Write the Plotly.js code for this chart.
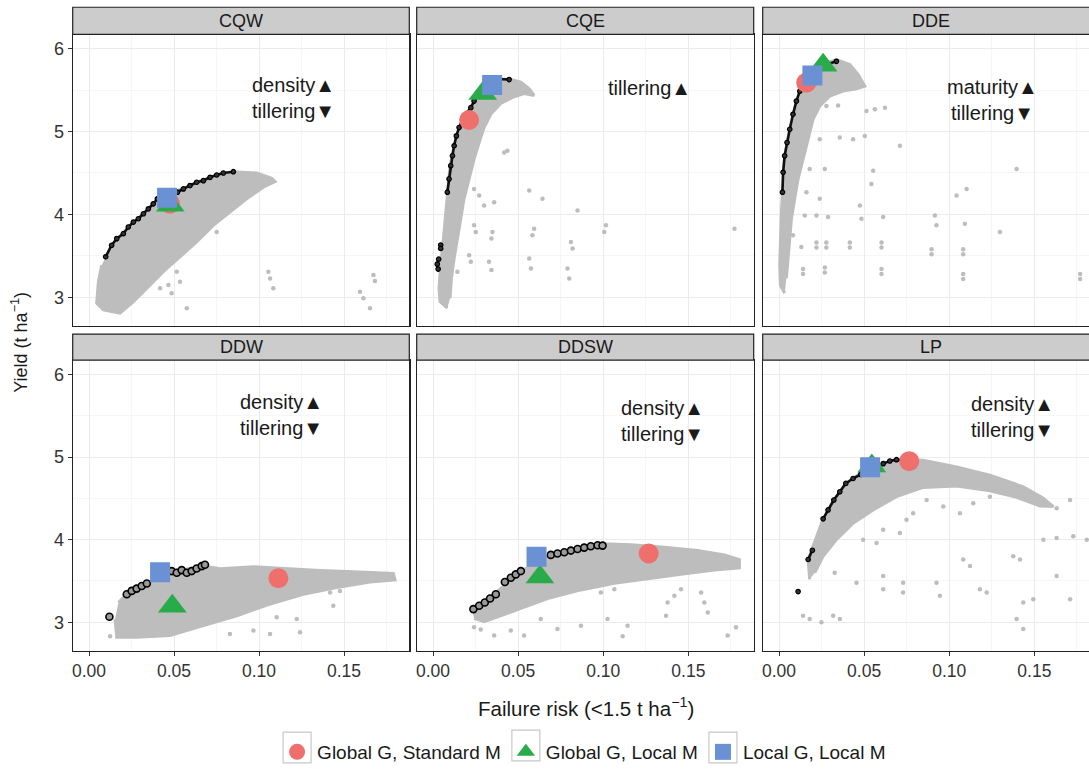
<!DOCTYPE html>
<html><head><meta charset="utf-8">
<script src="https://cdn.plot.ly/plotly-3.0.1.min.js"></script>
<style>html,body{margin:0;padding:0;overflow:hidden;background:#fff}#chart{width:1100px;height:771px}</style>
</head><body><div id="chart"></div>
<script>
// ---------- DATA ----------
const panelNames = ['CQW','CQE','DDE','DDW','DDSW','LP'];
const seriesNames = ['Global G, Standard M','Global G, Local M','Local G, Local M'];

// optimum points per panel (CQW, CQE, DDE, DDW, DDSW, LP)
const globalStdX = [0.0476,0.0212,0.0160,0.1114,0.1267,0.0765];
const globalStdY = [4.13,5.14,5.59,3.533,3.833,4.95];
const globalLocX = [0.0478,0.0292,0.0259,0.0490,0.0628,0.0545];
const globalLocY = [4.11,5.46,5.80,3.195,3.548,4.89];
const localX = [0.0459,0.0347,0.0196,0.0418,0.0608,0.0535];
const localY = [4.20,5.562,5.676,3.605,3.792,4.877];

// panel notes
const noteText = ['density▲<br>tillering▼','tillering▲','maturity▲<br>tillering▼','density▲<br>tillering▼','density▲<br>tillering▼','density▲<br>tillering▼'];

// dense simulation clouds (outline of the grey point mass)
const cqwCloudX = [0.0094,0.0133,0.0202,0.0290,0.0378,0.0476,0.0594,0.0712,0.0849,0.0986,0.1075,0.1094,0.1025,0.0927,0.0829,0.0731,0.0633,0.0535,0.0437,0.0339,0.0261,0.0182,0.0084,0.0045,0.0055,0.0075];
const cqwCloudY = [3.468,3.628,3.768,3.948,4.128,4.248,4.348,4.448,4.516,4.50,4.436,4.396,4.328,4.188,4.028,3.868,3.668,3.488,3.308,3.108,2.948,2.808,2.848,2.928,3.188,3.388];
const cqeCloudX = [0.0084,0.0041,0.0035,0.0045,0.0061,0.0075,0.0084,0.0100,0.0124,0.0153,0.0222,0.0300,0.0359,0.0457,0.0516,0.0565,0.0594,0.0535,0.0476,0.0398,0.0339,0.0300,0.0271,0.0241,0.0212,0.0182,0.0163,0.0143,0.0124,0.0108,0.0100];
const cqeCloudY = [2.868,2.948,3.108,3.388,3.708,4.028,4.268,4.588,4.828,5.048,5.288,5.568,5.636,5.628,5.596,5.516,5.436,5.46,5.42,5.34,5.208,5.048,4.868,4.668,4.428,4.188,3.948,3.708,3.468,3.228,2.988];
const ddeCloudX = [0.0033,0.0008,0.0004,0.0008,0.0014,0.0020,0.0033,0.0063,0.0102,0.0141,0.0220,0.0278,0.0337,0.0416,0.0465,0.0504,0.0455,0.0376,0.0298,0.0239,0.0200,0.0171,0.0141,0.0112,0.0092,0.0073,0.0063,0.0053,0.0043];
const ddeCloudY = [3.048,3.148,3.388,3.708,4.028,4.268,4.708,5.028,5.368,5.568,5.728,5.828,5.868,5.808,5.688,5.548,5.516,5.488,5.428,5.308,5.148,4.908,4.668,4.428,4.188,3.948,3.708,3.468,3.228];
const ddwCloudX = [0.0173,0.0222,0.0310,0.0476,0.0673,0.0771,0.0967,0.1163,0.1359,0.1555,0.1790,0.1800,0.1653,0.1457,0.1261,0.1065,0.0869,0.0673,0.0476,0.0280,0.0163,0.0153];
const ddwCloudY = [3.24,3.34,3.44,3.608,3.68,3.648,3.672,3.648,3.628,3.612,3.592,3.512,3.488,3.42,3.34,3.22,3.08,2.96,2.84,2.82,2.82,3.04];
const ddswCloudX = [0.0231,0.0369,0.0535,0.0712,0.0996,0.1163,0.1359,0.1555,0.1712,0.1800,0.1800,0.1653,0.1457,0.1261,0.1065,0.0869,0.0673,0.0516,0.0398,0.0300,0.0241];
const ddswCloudY = [3.14,3.36,3.64,3.84,3.952,3.94,3.908,3.868,3.816,3.76,3.66,3.632,3.58,3.528,3.472,3.392,3.288,3.168,3.08,3.008,3.048];
const lpCloudX = [0.0180,0.0171,0.0259,0.0322,0.0392,0.0475,0.0612,0.0729,0.0847,0.1043,0.1239,0.1435,0.1553,0.1612,0.1533,0.1396,0.1239,0.1043,0.0847,0.0690,0.0553,0.0435,0.0337,0.0259,0.0210];
const lpCloudY = [3.52,3.76,4.252,4.48,4.68,4.80,4.92,4.968,4.96,4.88,4.78,4.64,4.50,4.40,4.408,4.512,4.592,4.648,4.632,4.52,4.36,4.20,4.00,3.80,3.60];

// Pareto fronts (black)
const cqwFrontX = [0.0098,0.0133,0.0163,0.0202,0.0231,0.0261,0.0290,0.0320,0.0349,0.0378,0.0402,0.0520,0.0555,0.0594,0.0633,0.0673,0.0712,0.0751,0.0790,0.0849];
const cqwFrontY = [3.488,3.628,3.708,3.768,3.848,3.908,3.948,4.008,4.068,4.128,4.188,4.268,4.308,4.348,4.388,4.408,4.448,4.476,4.500,4.516];
const cqeFrontX = [0.0045,0.0045,null,0.0033,0.0025,0.0030,null,0.0084,0.0094,0.0104,0.0114,0.0124,0.0137,0.0153,0.0182,0.0222,0.0241,0.0271,0.0300,0.0359,0.0447];
const cqeFrontY = [3.63,3.59,null,3.46,3.40,3.34,null,4.268,4.428,4.588,4.708,4.828,4.948,5.048,5.188,5.288,5.368,5.468,5.568,5.636,5.628];
const ddeFrontX = [0.0020,0.0024,0.0033,0.0047,0.0063,0.0082,0.0102,0.0122,0.0160,0.0220,0.0278,0.0337];
const ddeFrontY = [4.268,4.508,4.708,4.868,5.028,5.208,5.368,5.488,5.62,5.74,5.808,5.848];
const ddwFrontX = [0.0120,0.0222,0.0251,0.0280,0.0310,0.0340,0.0486,0.0516,0.0545,0.0575,0.0604,0.0633,0.0663,0.0682];
const ddwFrontY = [3.068,3.34,3.38,3.408,3.44,3.47,3.62,3.60,3.632,3.60,3.62,3.652,3.68,3.696];
const ddswFrontX = [0.0237,0.0271,0.0304,0.0335,0.0369,0.0422,0.0457,0.0486,0.0516,0.0692,0.0731,0.0771,0.0810,0.0849,0.0888,0.0927,0.0967,0.0996];
const ddswFrontY = [3.16,3.20,3.24,3.288,3.34,3.488,3.54,3.58,3.62,3.816,3.832,3.848,3.868,3.888,3.904,3.92,3.932,3.928];
const lpFrontX = [0.0112,null,0.0171,0.0196,null,0.0259,0.0288,0.0322,0.0357,0.0392,0.0435,0.0480,null,0.0612,0.0651,0.0690,0.0729];
const lpFrontY = [3.372,null,3.76,3.872,null,4.252,4.36,4.48,4.58,4.68,4.74,4.79,null,4.92,4.952,4.968,4.96];

// scattered simulation points outside the dense clouds
const cqwSparseX = [0.0516,0.0535,0.0575,0.0467,0.0486,0.1055,0.1065,0.1084,0.1594,0.1614,0.1653,0.1673,0.1682,0.0692,0.0751,0.0418];
const cqwSparseY = [3.308,3.188,2.868,3.148,3.048,3.308,3.228,3.108,3.068,2.988,2.868,3.268,3.196,3.828,3.788,3.108];
const cqeSparseX = [0.0418,0.0437,0.0241,0.0271,0.0359,0.0300,0.0565,0.0643,0.0849,0.1016,0.1006,0.0594,0.0584,0.0810,0.0820,0.0349,0.0343,0.0241,0.0251,0.0133,0.0212,0.0222,0.0329,0.0343,0.0565,0.0575,0.0790,0.0800,0.1771,0.0143,0.0124];
const cqeSparseY = [4.748,4.768,4.308,4.228,4.148,4.108,4.288,4.188,4.048,3.868,3.788,3.828,3.748,3.668,3.588,3.788,3.708,3.868,3.788,3.748,3.508,3.428,3.428,3.328,3.468,3.348,3.348,3.228,3.828,3.308,3.568];
const ddeSparseX = [0.0278,0.0347,0.0514,0.0563,0.0622,0.0239,0.0357,0.0435,0.0504,0.0710,0.0180,0.0269,0.0553,0.1396,0.0543,0.1043,0.1102,0.0161,0.0239,0.0151,0.0220,0.0288,0.0475,0.0484,0.0612,0.0916,0.0925,0.1092,0.1298,0.0082,0.0131,0.0220,0.0220,0.0278,0.0278,0.0416,0.0416,0.0602,0.0602,0.0896,0.0896,0.1082,0.1082,0.0141,0.0141,0.0269,0.0269,0.0602,0.0602,0.1082,0.1082,0.1769,0.1769];
const ddeSparseY = [5.308,5.316,5.248,5.268,5.288,4.908,4.928,4.908,4.948,4.828,4.548,4.548,4.528,4.548,4.368,4.228,4.308,4.268,4.188,3.988,3.988,3.968,4.108,3.948,3.968,3.988,3.868,3.888,3.788,3.748,3.608,3.66,3.60,3.66,3.60,3.66,3.60,3.66,3.60,3.58,3.52,3.58,3.52,3.34,3.28,3.36,3.30,3.34,3.28,3.28,3.22,3.28,3.22];
const ddwSparseX = [0.0124,0.0202,0.1418,0.1437,0.0967,0.1065,0.1241,0.1222,0.0829,0.1104,0.1378,0.1476];
const ddwSparseY = [2.832,2.84,3.36,3.20,2.90,2.86,2.88,3.04,2.86,3.06,3.44,3.38];
const ddswSparseX = [0.0241,0.0280,0.0359,0.0457,0.0535,0.0633,0.0731,0.0869,0.1025,0.1114,0.1143,0.1378,0.1418,0.1457,0.1575,0.1614,0.1731,0.1780,0.0986,0.1065,0.1369,0.1594];
const ddswSparseY = [2.94,2.912,2.84,2.90,2.84,3.04,2.92,2.96,3.04,2.832,2.96,3.24,3.32,3.40,3.36,3.12,2.84,2.94,3.36,3.40,3.08,3.24];
const lpSparseX = [0.0141,0.0180,0.0249,0.0318,0.0357,0.0327,0.0455,0.0612,0.0612,0.0729,0.0729,0.0925,0.0945,0.1180,0.1220,0.1396,0.1435,0.1435,0.1494,0.1631,0.1710,0.0494,0.0573,0.0612,0.0710,0.0749,0.0788,0.0867,0.0965,0.1063,0.1141,0.1239,0.1376,0.1416,0.1553,0.1631,0.1729,0.1808,0.1082,0.1122,0.1631,0.1710];
const lpSparseY = [3.08,3.04,3.00,3.08,3.04,3.60,3.48,3.56,3.40,3.48,3.36,3.48,3.32,3.40,3.36,3.04,2.92,3.24,3.28,3.56,3.28,4.00,3.96,4.12,4.08,4.24,4.32,4.48,4.40,4.32,4.44,4.52,3.80,3.76,4.00,4.02,4.04,4.00,3.76,3.68,4.38,4.48];

const clouds = [[cqwCloudX,cqwCloudY],[cqeCloudX,cqeCloudY],[ddeCloudX,ddeCloudY],[ddwCloudX,ddwCloudY],[ddswCloudX,ddswCloudY],[lpCloudX,lpCloudY]];
const fronts = [[cqwFrontX,cqwFrontY],[cqeFrontX,cqeFrontY],[ddeFrontX,ddeFrontY],[ddwFrontX,ddwFrontY],[ddswFrontX,ddswFrontY],[lpFrontX,lpFrontY]];
const sparse = [[cqwSparseX,cqwSparseY],[cqeSparseX,cqeSparseY],[ddeSparseX,ddeSparseY],[ddwSparseX,ddwSparseY],[ddswSparseX,ddswSparseY],[lpSparseX,lpSparseY]];

// ---------- LAYOUT ----------
const W = 1100, H = 771;
const colPx = [[72.7,409.3],[416.7,753.7],[762.7,1099.7]];
const rowPx = [[34.7,327.9],[362.5,655]];
const stripPx = [[7.3,34.7],[336.3,362.5]];
const noteX = [0.1203,0.1274,0.1255,0.1132,0.1347,0.137];
const noteY = [5.406,5.52,5.376,5.504,5.432,5.486];
const FONT = 'Liberation Sans, Arial, Helvetica, sans-serif';
const grey = '#bdbdbd';
const cols = {std:'#ef6f6c', gl:'#2aab49', loc:'#6a91d3'};

const traces = [];
const layout = {
  width: W, height: H, margin:{l:0,r:0,t:0,b:0},
  paper_bgcolor:'#fff', plot_bgcolor:'#fff',
  font:{family:FONT, color:'#1a1a1a'},
  showlegend:true,
  legend:{orientation:'h', x:0.531, xanchor:'center', y:0.018, yanchor:'middle', bgcolor:'rgba(0,0,0,0)',
          font:{size:19, family:FONT, color:'#1a1a1a'}, itemsizing:'trace', traceorder:'normal'},
  shapes:[], annotations:[]
};

for (let i=0;i<6;i++){
  const r = Math.floor(i/3), c = i%3;
  const xa = 'x'+(i===0?'':i+1), ya = 'y'+(i===0?'':i+1);
  const xk = 'xaxis'+(i===0?'':i+1), yk = 'yaxis'+(i===0?'':i+1);
  layout[xk] = {
    domain:[colPx[c][0]/W, colPx[c][1]/W], anchor:ya, range:[-0.0096,0.1884],
    tickvals:[0,0.05,0.1,0.15], ticktext:['0.00','0.05','0.10','0.15'],
    showticklabels: r===1, ticks: r===1?'outside':'', ticklen:4, tickcolor:'#333', tickwidth:1,
    tickfont:{size:17.5, color:'#333'},
    showgrid:true, gridcolor:'#ebebeb', gridwidth:1,
    minor:{tickvals:[0.025,0.075,0.125,0.175], showgrid:true, gridcolor:'#f4f4f4', gridwidth:0.8, ticks:''},
    showline:true, mirror:true, linecolor:'#222', linewidth:1.2, zeroline:false, fixedrange:true
  };
  layout[yk] = {
    domain:[1-rowPx[r][1]/H, 1-rowPx[r][0]/H], anchor:xa, range:[2.656,6.172],
    tickvals:[3,4,5,6], showticklabels: c===0, ticks: c===0?'outside':'', ticklen:4, tickcolor:'#333', tickwidth:1,
    tickfont:{size:18, color:'#333'},
    showgrid:true, gridcolor:'#ebebeb', gridwidth:1,
    minor:{tickvals:[3.5,4.5,5.5], showgrid:true, gridcolor:'#f4f4f4', gridwidth:0.8, ticks:''},
    showline:true, mirror:true, linecolor:'#222', linewidth:1.2, zeroline:false, fixedrange:true
  };
  // strip
  layout.shapes.push({type:'rect', xref:'paper', yref:'paper',
    x0:colPx[c][0]/W, x1:colPx[c][1]/W, y0:1-stripPx[r][1]/H, y1:1-stripPx[r][0]/H,
    fillcolor:'#cccccc', line:{color:'#222', width:1.2}, layer:'above'});
  layout.annotations.push({xref:'paper', yref:'paper', x:(colPx[c][0]+colPx[c][1])/2/W,
    y:1-(stripPx[r][0]+stripPx[r][1])/2/H, text:panelNames[i], showarrow:false,
    xanchor:'center', yanchor:'middle', font:{size:18, color:'#1a1a1a'}});
  // note
  layout.annotations.push({xref:xa, yref:ya, x:noteX[i], y:noteY[i], text:noteText[i], showarrow:false,
    xanchor:'center', yanchor:'middle', align:'center', font:{size:20, color:'#1a1a1a'}});

  // cloud
  traces.push({type:'scatter', mode:'lines', x:clouds[i][0], y:clouds[i][1], xaxis:xa, yaxis:ya,
    fill:'toself', fillcolor:grey, line:{color:grey, width:3},
    hoverinfo:'skip', showlegend:false});
  traces.push({type:'scatter', mode:'markers', x:sparse[i][0], y:sparse[i][1], xaxis:xa, yaxis:ya,
    marker:{size:4.5, color:grey}, hoverinfo:'skip', showlegend:false});
  const ring = (i===3||i===4);
  traces.push({type:'scatter', mode: ring?'markers':'lines+markers', x:fronts[i][0], y:fronts[i][1], xaxis:xa, yaxis:ya,
    line:{color:'#111', width:2.6},
    marker:{size: ring?7:4.5, color: ring?'#9a9a9a':'#333', line:{color:'#000', width: ring?1.6:1.2}},
    connectgaps:false, hoverinfo:'skip', showlegend:false});
  // optimum markers
  traces.push({type:'scatter', mode:'markers', x:[globalStdX[i]], y:[globalStdY[i]], xaxis:xa, yaxis:ya,
    name:seriesNames[0], legendgroup:'a', showlegend:i===0, marker:{symbol:'circle', size:20, color:cols.std}});
  traces.push({type:'scatter', mode:'markers', x:[globalLocX[i]], y:[globalLocY[i]], xaxis:xa, yaxis:ya,
    name:seriesNames[1], legendgroup:'b', showlegend:i===0, marker:{symbol:'triangle-up', size:25, color:cols.gl}});
  traces.push({type:'scatter', mode:'markers', x:[localX[i]], y:[localY[i]], xaxis:xa, yaxis:ya,
    name:seriesNames[2], legendgroup:'c', showlegend:i===0, marker:{symbol:'square', size:20, color:cols.loc}});
}

// global axis titles
layout.annotations.push({xref:'paper', yref:'paper', x:586/W, y:1-712/H, text:'Failure risk (&lt;1.5 t ha<sup>−1</sup>)',
  showarrow:false, xanchor:'center', yanchor:'middle', font:{size:20.5, color:'#1a1a1a'}});
layout.annotations.push({xref:'paper', yref:'paper', x:20/W, y:1-345/H, text:'Yield (t ha<sup>−1</sup>)',
  showarrow:false, textangle:-90, xanchor:'center', yanchor:'middle', font:{size:18, color:'#1a1a1a'}});

Plotly.newPlot('chart', traces, layout, {staticPlot:true, displayModeBar:false}).then(function(gd){
  // grey key boxes around each legend symbol, as in the reference legend
  const root = gd.getBoundingClientRect();
  const shapes = layout.shapes.slice();
  gd.querySelectorAll('.legend path.scatterpts').forEach(function(p){
    const b = p.getBoundingClientRect();
    if (!b.width) return;
    const cx = b.left + b.width/2 - root.left, cy = b.top + b.height/2 - root.top;
    shapes.push({type:'rect', xref:'paper', yref:'paper', x0:(cx-14)/W, x1:(cx+14)/W,
      y0:1-(cy+16)/H, y1:1-(cy-15)/H, line:{color:'#c8c8c8', width:1.2}, fillcolor:'rgba(0,0,0,0)', layer:'above'});
  });
  return Plotly.relayout(gd, {shapes: shapes});
});
</script></body></html>
